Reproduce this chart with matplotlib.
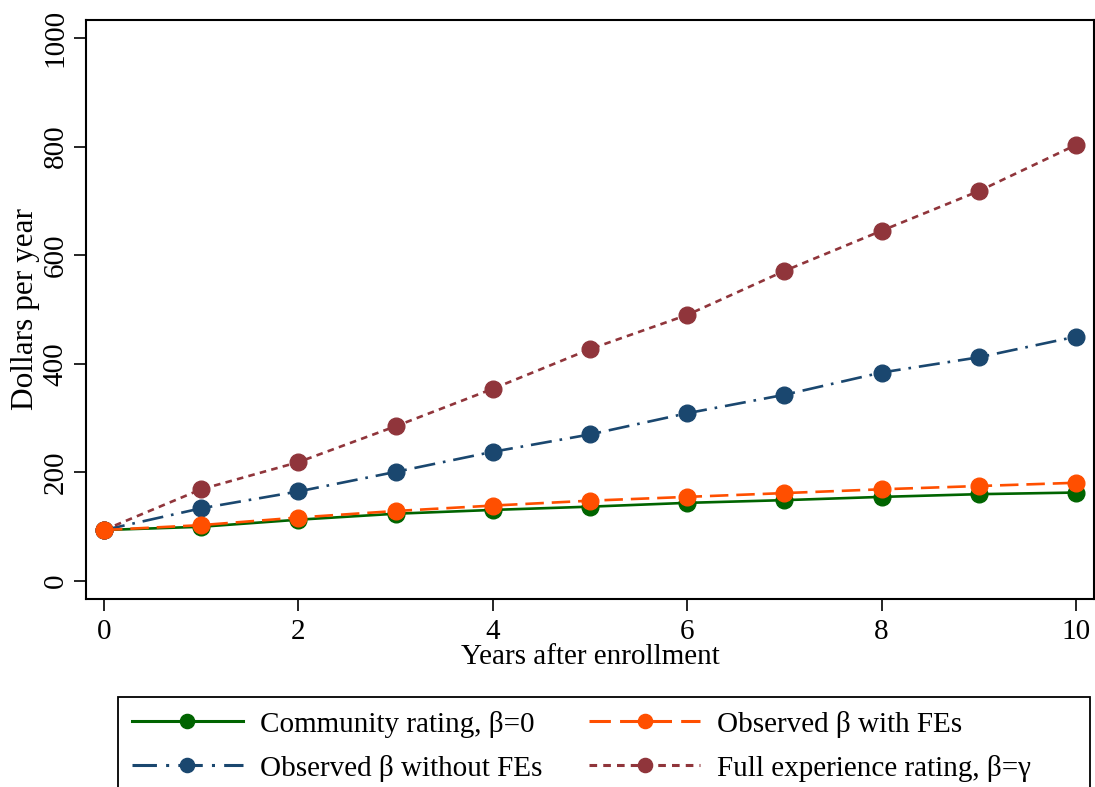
import matplotlib
matplotlib.use("Agg")
import matplotlib.pyplot as plt
from matplotlib.patches import Rectangle

years = [0, 1, 2, 3, 4, 5, 6, 7, 8, 9, 10]
community = [94, 100, 113, 124, 131, 137, 144, 149, 155, 160, 163]
obs_fe = [94, 103, 117, 129, 139, 148, 155, 162, 169, 175, 181]
obs_nofe = [94, 134, 165, 201, 238, 270, 309, 343, 384, 412, 450]
full_exp = [94, 169, 219, 285, 354, 427, 490, 571, 645, 718, 803]

labels = ["Community rating, \u03b2=0", "Observed \u03b2 without FEs",
          "Observed \u03b2 with FEs", "Full experience rating, \u03b2=\u03b3"]
xticks = [0, 2, 4, 6, 8, 10]
yticks = [0, 200, 400, 600, 800, 1000]

plt.rcParams['font.family'] = ['Liberation Serif', 'DejaVu Serif']

W, H = 1095, 787
fig = plt.figure(figsize=(W / 100, H / 100), dpi=100)
ax = fig.add_axes([86 / W, 1 - 599 / H, (1094 - 86) / W, (599 - 20) / H])

green = '#006400'
orange = '#FF4F00'
navy = '#1A476F'
maroon = '#90353B'
ms = 12
lw = 1.9

h1, = ax.plot(years, community, color=green, lw=lw, ls='-', marker='o', ms=ms, zorder=3)
h3, = ax.plot(years, obs_fe, color=orange, lw=lw, ls=(0, (7, 3)), marker='o', ms=ms, zorder=4)
h2, = ax.plot(years, obs_nofe, color=navy, lw=lw, ls=(0, (8, 3, 1, 3)), marker='o', ms=ms, zorder=3)
h4, = ax.plot(years, full_exp, color=maroon, lw=lw, ls=(0, (2.5, 2)), marker='o', ms=ms, zorder=3)

ax.set_xlim(-0.185, 10.185)
ax.set_ylim(-33, 1033)
ax.set_xticks(xticks)
ax.set_yticks(yticks)
ax.tick_params(axis='both', direction='out', length=8.6, width=1.2, labelsize=21)
ax.tick_params(axis='y', pad=4)
ax.tick_params(axis='x', pad=6)
for lab in ax.get_yticklabels():
    lab.set_rotation(90)
    lab.set_va('center')
for s in ax.spines.values():
    s.set_linewidth(1.5)

ax.set_xlabel("Years after enrollment", fontsize=21, labelpad=-1)
ax.set_ylabel("Dollars per year", fontsize=22.5, labelpad=1.5)

leg = fig.legend([h1, h2, h3, h4], labels, ncol=2, loc='upper left',
                 bbox_to_anchor=(118 / W, 1 - 697 / H),
                 fontsize=21, frameon=False,
                 handlelength=3.8, handletextpad=0.6, columnspacing=1.6,
                 borderaxespad=0, borderpad=0.47, labelspacing=0.58,
                 markerscale=0.85)
for lh in leg.legend_handles:
    lh.set_linewidth(2.2)

fig.patches.append(Rectangle((118 / W, -0.01), (1090 - 118) / W, 1 - 697 / H + 0.01,
                             transform=fig.transFigure, fill=False,
                             edgecolor='black', linewidth=1.3))

fig.savefig("out.png", dpi=100)
